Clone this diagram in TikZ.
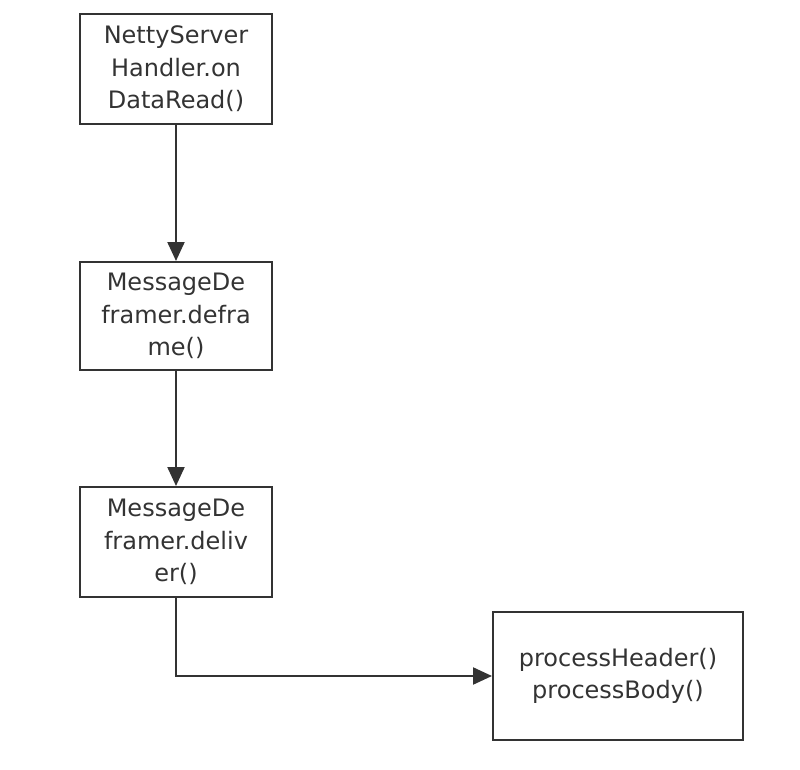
\documentclass[tikz,border=0pt]{standalone}
\usepackage{fontspec}
\setmainfont{DejaVu Sans}
\usepackage{tikz}
\usetikzlibrary{arrows.meta}
\definecolor{trazo}{HTML}{333333}

\tikzset{
  caja/.style={draw=trazo,line width=2pt,align=center,inner sep=0pt,
    font=\fontsize{24}{32.5}\selectfont,text=trazo},
  flecha/.style={-{Triangle[length=19pt,width=17pt]},draw=trazo,line width=2.2pt}
}

\begin{document}
\begin{tikzpicture}[x=1pt,y=-1pt]
    \useasboundingbox (0,0) rectangle (800,770);
    \node[caja,minimum width=192,minimum height=110] (netty) at (176,69) {NettyServer\\Handler.on\\DataRead()};
    \node[caja,minimum width=192,minimum height=108] (deframe) at (176,316) {MessageDe\\framer.defra\\me()};
    \node[caja,minimum width=192,minimum height=110] (deliver) at (176,542) {MessageDe\\framer.deliv\\er()};
    \node[caja,minimum width=250,minimum height=128] (process) at (618,676) {processHeader()\\processBody()};
    \draw[flecha] (netty) -- (deframe);
    \draw[flecha] (deframe) -- (deliver);
    \draw[flecha] (deliver.south) |- (process.west);
\end{tikzpicture}
\end{document}
